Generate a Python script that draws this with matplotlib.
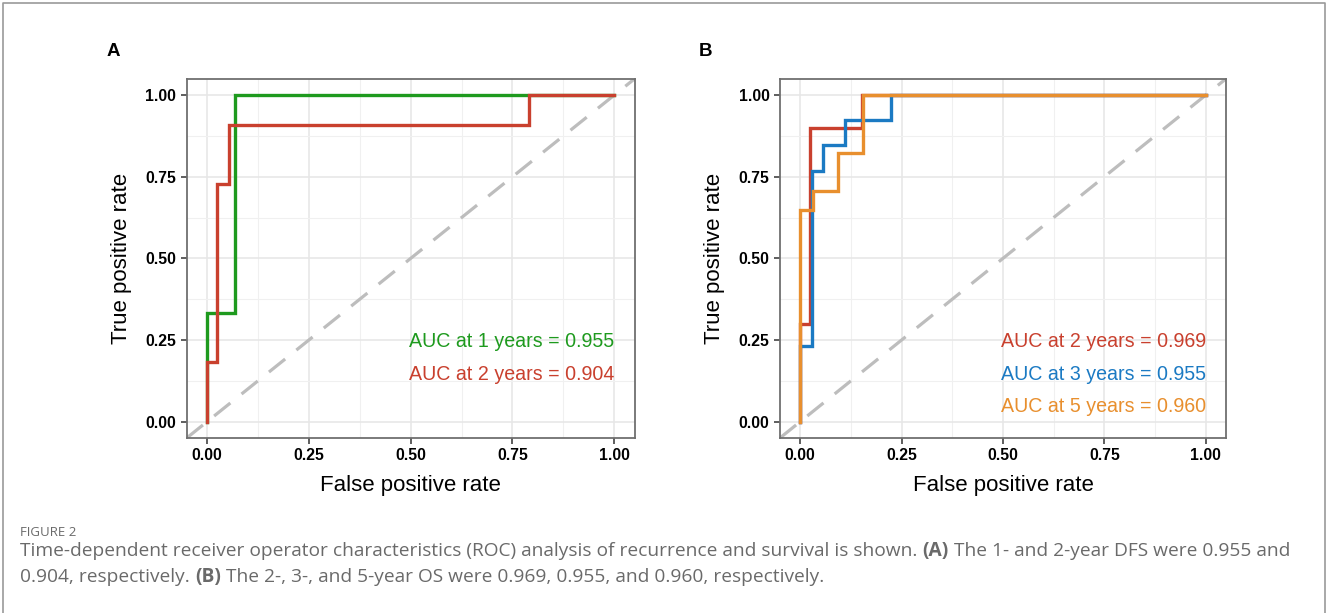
import numpy as np
import matplotlib
matplotlib.use("Agg")
import matplotlib.pyplot as plt
from matplotlib.ticker import MultipleLocator

plt.rcParams['font.family'] = ['Liberation Sans', 'DejaVu Sans']

# --- datos (curvas ROC escalonadas) ---
fpr_a1 = [0.0, 0.0, 0.068, 0.068, 1.0]
tpr_a1 = [0.0, 0.333, 0.333, 1.0, 1.0]
fpr_a2 = [0.0, 0.0, 0.025, 0.025, 0.054, 0.054, 0.791, 0.791, 1.0]
tpr_a2 = [0.0, 0.182, 0.182, 0.727, 0.727, 0.909, 0.909, 1.0, 1.0]

fpr_b2 = [0.0, 0.0, 0.025, 0.025, 0.152, 0.152, 1.0]
tpr_b2 = [0.0, 0.30, 0.30, 0.90, 0.90, 1.0, 1.0]
fpr_b3 = [0.0, 0.0, 0.029, 0.029, 0.055, 0.055, 0.111, 0.111, 0.223, 0.223, 1.0]
tpr_b3 = [0.0, 0.231, 0.231, 0.769, 0.769, 0.846, 0.846, 0.923, 0.923, 1.0, 1.0]
fpr_b5 = [0.0, 0.0, 0.031, 0.031, 0.094, 0.094, 0.156, 0.156, 1.0]
tpr_b5 = [0.0, 0.647, 0.647, 0.706, 0.706, 0.824, 0.824, 1.0, 1.0]

etiquetas_a = ["AUC at 1 years = 0.955", "AUC at 2 years = 0.904"]
etiquetas_b = ["AUC at 2 years = 0.969", "AUC at 3 years = 0.955", "AUC at 5 years = 0.960"]
ticks = [0.0, 0.25, 0.5, 0.75, 1.0]

ROJO = "#C9402E"
VERDE = "#1E9A1E"
AZUL = "#1B7AC3"
NARANJA = "#E88F2E"

fig = plt.figure(figsize=(13.28, 6.13), dpi=100)

# marco exterior
fig.add_artist(plt.Line2D([0.002, 0.002, 0.998, 0.998], [0.0, 0.995, 0.995, 0.0],
                          transform=fig.transFigure, color="#9a9a9a", lw=1.2))


def panel(rect, curvas, etiquetas, letra, letra_x):
    ax = fig.add_axes(rect)
    ax.set_xlim(-0.05, 1.05)
    ax.set_ylim(-0.05, 1.05)
    ax.xaxis.set_major_locator(MultipleLocator(0.25))
    ax.yaxis.set_major_locator(MultipleLocator(0.25))
    ax.xaxis.set_minor_locator(MultipleLocator(0.125))
    ax.yaxis.set_minor_locator(MultipleLocator(0.125))
    ax.grid(which="major", color="#E6E6E6", lw=1.1)
    ax.grid(which="minor", color="#F0F0F0", lw=0.8)
    ax.set_axisbelow(True)
    ax.tick_params(which="minor", length=0)
    ax.tick_params(which="major", length=4, width=1.1, color="#333333", pad=3.5,
                   labelsize=11.3)
    ax.set_xticks(ticks)
    ax.set_yticks(ticks)
    ax.set_xticklabels(["%.2f" % t for t in ticks], fontweight="bold")
    ax.set_yticklabels(["%.2f" % t for t in ticks], fontweight="bold")
    for s in ax.spines.values():
        s.set_color("#6f6f6f")
        s.set_linewidth(1.3)
    ax.plot([-0.05, 1.05], [-0.05, 1.05], color="#BDBDBD", lw=2.3,
            dashes=(6.5, 4.5), zorder=2)
    for (x, y, c) in curvas:
        ax.plot(x, y, color=c, lw=2.4, zorder=3, solid_joinstyle="miter")
    ys = [0.245, 0.145, 0.045]
    for i, (txt, c) in enumerate(etiquetas):
        ax.text(1.0, ys[i], txt, color=c, fontsize=14.1, ha="right", va="center")
    ax.set_xlabel("False positive rate", fontsize=16, labelpad=8)
    ax.set_ylabel("True positive rate", fontsize=16, labelpad=10)
    fig.text(letra_x, 1 - 52 / 613, letra, fontsize=13.5, fontweight="bold",
             ha="left", va="center")
    return ax


panel([0.1406, 0.2855, 0.3373, 0.586],
      [(fpr_a1, tpr_a1, VERDE), (fpr_a2, tpr_a2, ROJO)],
      [(etiquetas_a[0], VERDE), (etiquetas_a[1], ROJO)], "A", 107 / 1328)
panel([0.5873, 0.2855, 0.3359, 0.586],
      [(fpr_b2, tpr_b2, ROJO), (fpr_b3, tpr_b3, AZUL), (fpr_b5, tpr_b5, NARANJA)],
      [(etiquetas_b[0], ROJO), (etiquetas_b[1], AZUL), (etiquetas_b[2], NARANJA)],
      "B", 699 / 1328)

# --- pie de figura con partes en negrita ---
GRIS = "#6a6a6a"
fig.text(20 / 1328, 1 - 532 / 613, "FIGURE 2", fontsize=9.5, color=GRIS,
         family="Open Sans", va="center")

renderer = fig.canvas.get_renderer()


def linea(piezas, y_px):
    x = 20.0
    for txt, peso in piezas:
        t = fig.text(x / 1328, 1 - y_px / 613, txt, fontsize=13.75, color=GRIS,
                     family="Open Sans", fontweight=peso, va="center")
        bb = t.get_window_extent(renderer)
        x += bb.width


linea([("Time-dependent receiver operator characteristics (ROC) analysis of recurrence and survival is shown. ", "normal"),
       ("(A)", "bold"),
       (" The 1- and 2-year DFS were 0.955 and", "normal")], 551)
linea([("0.904, respectively. ", "normal"),
       ("(B)", "bold"),
       (" The 2-, 3-, and 5-year OS were 0.969, 0.955, and 0.960, respectively.", "normal")], 577)

fig.savefig("out.png", dpi=100)
